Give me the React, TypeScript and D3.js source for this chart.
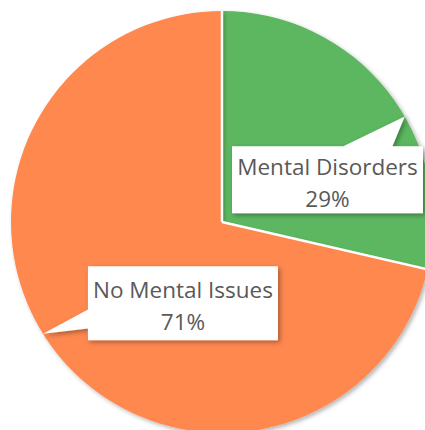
import React from "react";
import * as d3 from "d3";

const categories = ["Mental Disorders", "No Mental Issues"];
const values = [28.6, 71.4];
const colors = ["#5CB761", "#FF884F"];
// label layout: anchor angle (deg, clockwise from top) and box centre offset relative to radius
const labelAnchorDeg = [60, 238];
const labelOffset = [[0.5, -0.2], [-0.185, 0.385]];

const W = 425, H = 430;
const cx = 222, cy = 222, R = 211;
const FONT = 22.5;
const BOXW = [191, 190];
const BOXH = [67, 74];

function calloutPath(x0: number, y0: number, w: number, h: number, ax: number, ay: number) {
  const x1 = x0 + w, y1 = y0 + h;
  const f1 = 0.583, f2 = 0.84;
  if (ay < y0) {
    const bx1 = x0 + w * f1, bx2 = x0 + w * f2;
    return `M${x0},${y0}L${bx1},${y0}L${ax},${ay}L${bx2},${y0}L${x1},${y0}L${x1},${y1}L${x0},${y1}Z`;
  }
  if (ax < x0) {
    const by1 = y0 + h * f1, by2 = y0 + h * f2;
    return `M${x0},${y0}L${x1},${y0}L${x1},${y1}L${x0},${y1}L${x0},${by2}L${ax},${ay}L${x0},${by1}Z`;
  }
  return `M${x0},${y0}L${x1},${y0}L${x1},${y1}L${x0},${y1}Z`;
}

export default function App() {
  const pie = d3.pie<number>().sort(null).value((d) => d).startAngle(0).endAngle(2 * Math.PI);
  const arcs = pie(values);
  const arc = d3.arc<d3.PieArcDatum<number>>().innerRadius(0).outerRadius(R);
  const total = d3.sum(values);
  return (
    <svg width={W} height={H} style={{ position: "absolute", left: 0, top: 0 }} fontFamily="'Open Sans', 'Noto Sans', sans-serif">
      <defs>
        <filter id="sliceShadow" x="-20%" y="-20%" width="140%" height="140%">
          <feDropShadow dx="2" dy="2" stdDeviation="2" floodColor="#000" floodOpacity="0.3" />
        </filter>
        <filter id="boxShadow" x="-20%" y="-20%" width="140%" height="150%">
          <feDropShadow dx="2" dy="2" stdDeviation="2.5" floodColor="#000" floodOpacity="0.35" />
        </filter>
      </defs>
      <g transform={`translate(${cx},${cy})`}>
        {arcs.map((a, i) => (
          <path key={i} d={arc(a) || ""} fill={colors[i]} filter="url(#sliceShadow)" />
        ))}
        {arcs.map((a, i) => {
          const x = R * Math.sin(a.startAngle);
          const y = -R * Math.cos(a.startAngle);
          return <line key={"b" + i} x1={0} y1={0} x2={x} y2={y} stroke="#fff" strokeWidth={2.5} />;
        })}
      </g>
      {arcs.map((a, i) => {
        const ang = (labelAnchorDeg[i] * Math.PI) / 180;
        const ax = cx + R * Math.sin(ang);
        const ay = cy - R * Math.cos(ang);
        const bcx = cx + labelOffset[i][0] * R;
        const bcy = cy + labelOffset[i][1] * R;
        const w = BOXW[i], h = BOXH[i];
        const x0 = bcx - w / 2, y0 = bcy - h / 2;
        const pct = Math.round((values[i] / total) * 100) + "%";
        return (
          <g key={i}>
            <path d={calloutPath(x0, y0, w, h, ax, ay)} fill="#fff" filter="url(#boxShadow)" />
            <text x={bcx} y={y0 + (i === 0 ? 29 : 32)} textAnchor="middle" fontSize={FONT} fill="#595959">{categories[i]}</text>
            <text x={bcx} y={y0 + (i === 0 ? 61 : 64)} textAnchor="middle" fontSize={FONT} fill="#595959">{pct}</text>
          </g>
        );
      })}
    </svg>
  );
}
